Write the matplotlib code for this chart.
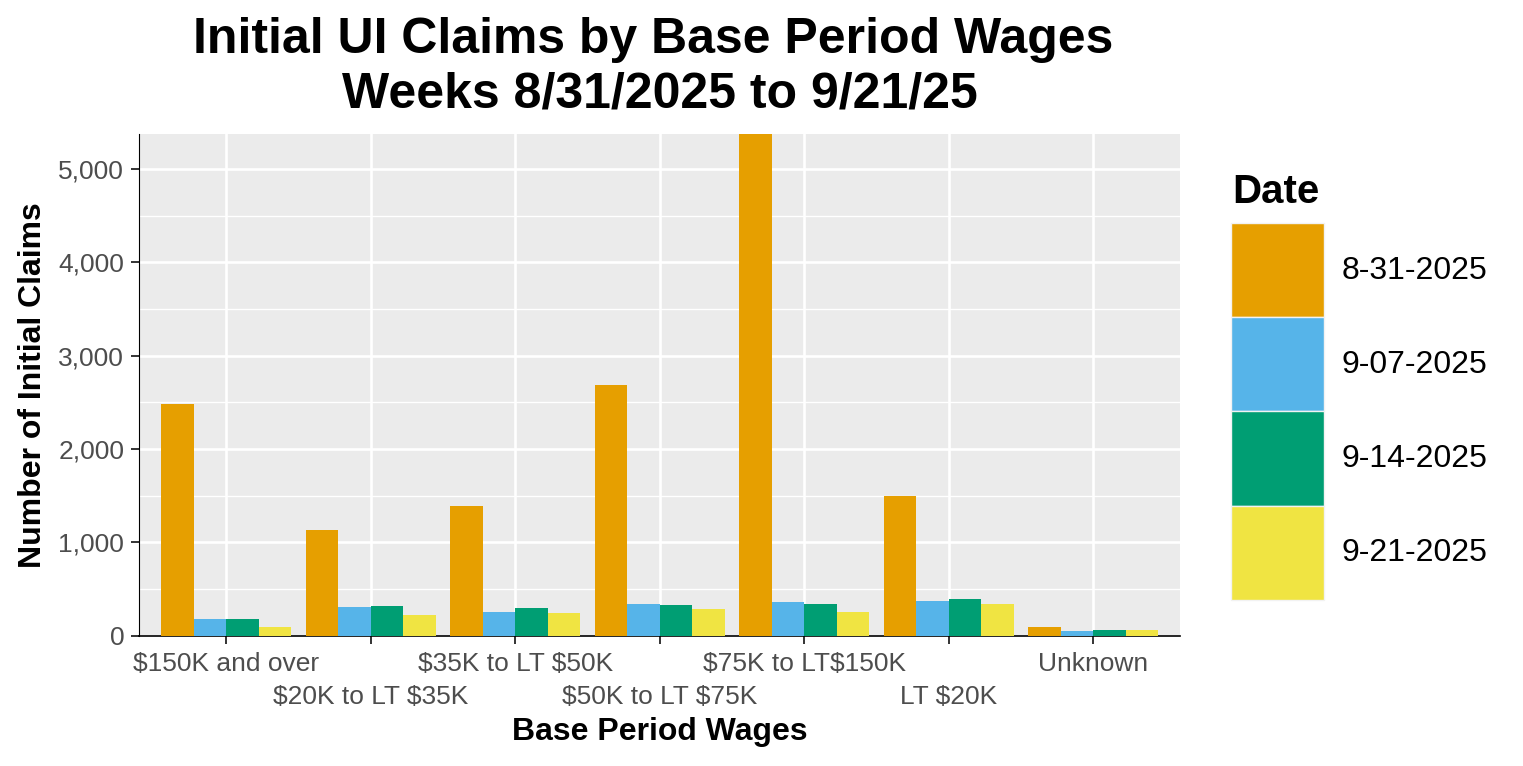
import numpy as np
import matplotlib
matplotlib.use("Agg")
import matplotlib.pyplot as plt
from matplotlib.patches import Patch
from matplotlib.ticker import FuncFormatter, MultipleLocator, FixedLocator, FixedFormatter

plt.rcParams['font.family'] = ['Liberation Sans', 'DejaVu Sans']
plt.rcParams['text.parse_math'] = False

# data
wage_groups = ["$150K and over", "$20K to LT $35K", "$35K to LT $50K",
               "$50K to LT $75K", "$75K to LT$150K", "LT $20K", "Unknown"]
dates = ["8-31-2025", "9-07-2025", "9-14-2025", "9-21-2025"]
claims_0831 = [2484, 1134, 1392, 2687, 5376, 1498, 94]
claims_0907 = [180, 309, 255, 341, 362, 373, 51]
claims_0914 = [180, 320, 298, 330, 341, 394, 62]
claims_0921 = [94, 223, 244, 287, 255, 341, 62]
colors = ["#E69F00", "#56B4E9", "#009E73", "#F0E442"]

W, H = 1523, 766
fig = plt.figure(figsize=(W / 100, H / 100), dpi=100)

# panel position in pixels
px_l, px_r, px_t, px_b = 139.3, 1180, 134, 635.8
ax = fig.add_axes([px_l / W, 1 - px_b / H, (px_r - px_l) / W, (px_b - px_t) / H])
ax.set_facecolor("#EBEBEB")

series = [claims_0831, claims_0907, claims_0914, claims_0921]
x = np.arange(len(wage_groups))
bw = 0.9 / len(series)
for i, (vals, c) in enumerate(zip(series, colors)):
    ax.bar(x - 0.45 + bw * (i + 0.5), vals, width=bw, color=c, zorder=3, linewidth=0)

ymax = max(max(s) for s in series)
ax.set_ylim(0, ymax)
ax.set_xlim(-0.6, len(wage_groups) - 1 + 0.6)

ax.yaxis.set_major_locator(MultipleLocator(1000))
ax.yaxis.set_minor_locator(MultipleLocator(500))
ax.yaxis.set_major_formatter(FuncFormatter(lambda v, p: f"{int(v):,}"))

# dodged x labels: even groups on the first row, odd groups on the second
ax.xaxis.set_major_locator(FixedLocator(x[::2]))
ax.xaxis.set_major_formatter(FixedFormatter(wage_groups[::2]))
ax.xaxis.set_minor_locator(FixedLocator(x[1::2]))
ax.xaxis.set_minor_formatter(FixedFormatter(wage_groups[1::2]))

ax.xaxis.grid(True, which="both", color="white", linewidth=1.9, zorder=1)
ax.yaxis.grid(True, which="major", color="white", linewidth=1.9, zorder=1)
ax.yaxis.grid(True, which="minor", color="white", linewidth=0.95, zorder=1)
ax.set_axisbelow(True)

ax.tick_params(axis="both", which="both", length=5.8, width=1.4, color="#333333",
               labelsize=19, labelcolor="#4D4D4D")
ax.tick_params(axis="y", which="major", pad=5)
ax.tick_params(axis="y", which="minor", length=0)
ax.tick_params(axis="x", which="major", pad=6)
ax.tick_params(axis="x", which="minor", pad=29.3)

for s in ["top", "right"]:
    ax.spines[s].set_visible(False)
ax.spines["left"].set_color("black")
ax.spines["left"].set_linewidth(0.8)
ax.spines["bottom"].set_color("black")
ax.spines["bottom"].set_linewidth(1.2)

cx = (px_l + px_r) / 2 / W
fig.text(cx, 1 - 53.3 / H, "Initial UI Claims by Base Period Wages ", ha="center",
         va="baseline", fontsize=36, fontweight="bold")
fig.text(cx, 1 - 107.3 / H, "Weeks 8/31/2025 to 9/21/25", ha="center",
         va="baseline", fontsize=36, fontweight="bold")
fig.text(cx, 1 - 732 / H, "Base Period Wages", ha="center", va="center",
         fontsize=23, fontweight="bold")
fig.text(33 / W, 1 - (px_t + px_b) / 2 / H, "Number of Initial Claims", ha="center",
         va="center", rotation=90, fontsize=23, fontweight="bold")

# legend
fig.text(1232 / W, 1 - 203 / H, "Date", ha="left", va="baseline",
         fontsize=29, fontweight="bold")
handles = [Patch(facecolor=c, edgecolor="#F2F2F2", linewidth=1) for c in colors]
leg = fig.legend(handles, dates, loc="upper left",
                 bbox_to_anchor=(1231 / W, 1 - 223 / H), frameon=False,
                 fontsize=23, handlelength=2.92, handleheight=4.16, labelspacing=0.0,
                 handletextpad=0.55, borderpad=0, borderaxespad=0)

fig.savefig("out.png", dpi=100)
